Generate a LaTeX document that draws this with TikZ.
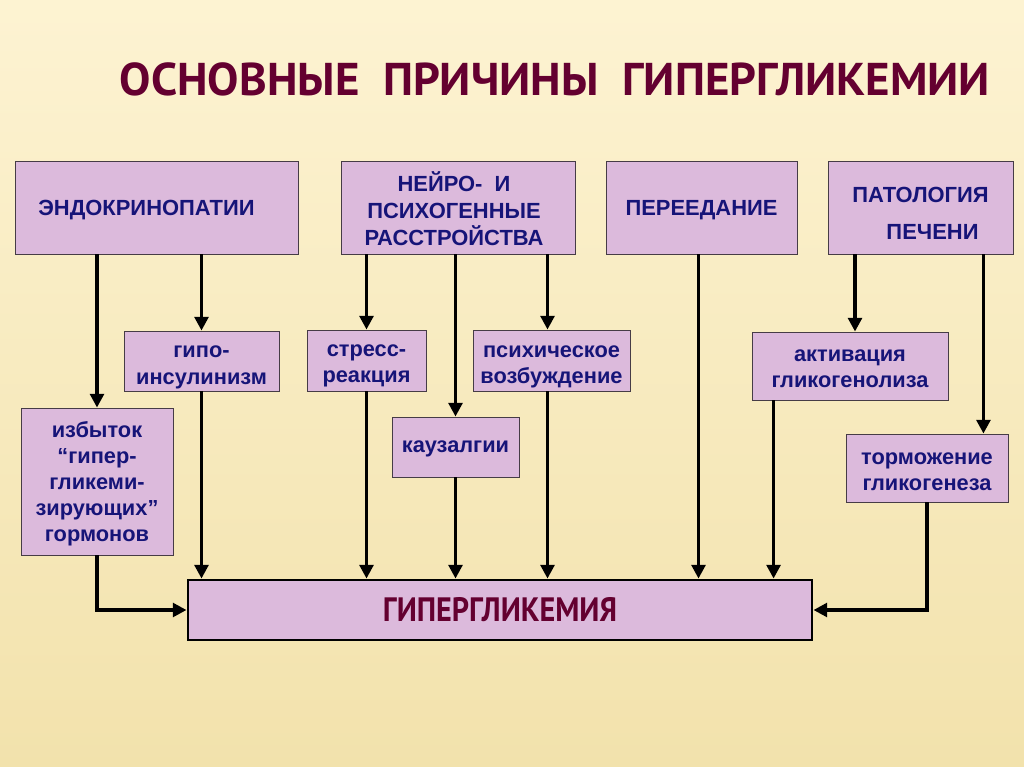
\documentclass[tikz,border=0pt]{standalone}
\usepackage{fontspec}
\setmainfont{Liberation Sans}
\newfontfamily\titlefont{PT Sans}
\usepackage{graphicx}
\usepackage{tikz}
\usetikzlibrary{arrows.meta, positioning, calc}
\definecolor{bgtop}{RGB}{253,243,210}
\definecolor{bgmid}{RGB}{245,224,165}
\definecolor{bgbot}{RGB}{242,226,172}
\definecolor{boxfill}{RGB}{220,186,220}
\definecolor{boxline}{RGB}{70,60,70}
\definecolor{navy}{RGB}{22,20,120}
\definecolor{maroon}{RGB}{100,0,48}
% lower the lines of a box without changing its size
\newcommand{\downtext}[2]{\raisebox{-#1}[\height][\depth]{\begin{tabular}{@{}c@{}}#2\end{tabular}}}
\tikzset{
  topbox/.style={rectangle, draw=boxline, fill=boxfill, line width=0.6pt,
    inner sep=0pt, align=center, text=navy,
    font=\fontsize{15.6}{19}\selectfont\bfseries, minimum height=2.325cm},
  subbox/.style={rectangle, draw=boxline, fill=boxfill, line width=0.6pt,
    inner sep=0pt, align=center, text=navy,
    font=\fontsize{15.5}{18.5}\selectfont\bfseries},
  mainbox/.style={rectangle, draw=black, fill=boxfill, line width=2pt,
    inner sep=0pt, text=maroon, minimum width=15.6cm, minimum height=1.5cm},
  arrow/.style={-{Triangle[length=0.34cm, width=0.34cm]}, line width=2.7pt, color=black}
}

\begin{document}
\begin{tikzpicture}[x=0.025cm, y=-0.025cm]
  % background
  \shade[top color=bgtop, middle color=bgmid, bottom color=bgbot] (0,0) rectangle (1024,767);
  \useasboundingbox (0,0) rectangle (1024,767);

  % title
  \node[text=maroon] (title) at (555,79)
    {\resizebox{21.75cm}{0.82cm}{\titlefont\bfseries ОСНОВНЫЕ\ \ ПРИЧИНЫ\ \ ГИПЕРГЛИКЕМИИ}};

  % top row
  \node[topbox, minimum width=7.075cm] (endo) at (156.5,207.5)
    {\downtext{0.075cm}{ЭНДОКРИНОПАТИИ}\hspace*{0.5cm}};
  \node[topbox, minimum width=5.85cm] (neuro) at (458,207.5)
    {\downtext{0.13cm}{НЕЙРО-\ \ И\\ПСИХОГЕННЫЕ\\РАССТРОЙСТВА}\hspace*{0.2cm}};
  \node[topbox, minimum width=4.775cm] (over) at (701.5,207.5) {\downtext{0.075cm}{ПЕРЕЕДАНИЕ}};
  \node[topbox, minimum width=4.625cm] (liver) at (920.5,207.5)
    {\fontsize{15.6}{26}\selectfont\downtext{0.15cm}{ПАТОЛОГИЯ\\\hspace*{0.6cm}ПЕЧЕНИ}};

  % second level
  \node[subbox, minimum width=3.875cm, minimum height=1.5cm] (hypo) at (201.5,361)
    {\downtext{0.12cm}{гипо-\\инсулинизм}};
  \node[subbox, minimum width=3.8cm, minimum height=3.675cm] (excess) at (97,481.5)
    {\downtext{0.06cm}{избыток\\“гипер-\\гликеми-\\зирующих”\\гормонов}};
  \node[subbox, minimum width=2.975cm, minimum height=1.525cm] (stress) at (366.5,360.5)
    {\downtext{0.1cm}{стресс-\\реакция}};
  \node[subbox, minimum width=3.175cm, minimum height=1.5cm] (caus) at (455.5,447)
    {\downtext{0cm}{каузалгии}};
  \node[subbox, minimum width=3.925cm, minimum height=1.525cm] (psych) at (551.5,360.5)
    {\downtext{0.12cm}{психическое\\возбуждение}};
  \node[subbox, minimum width=4.9cm, minimum height=1.7cm] (act) at (850,366)
    {\downtext{0.075cm}{активация\\гликогенолиза}};
  \node[subbox, minimum width=4.05cm, minimum height=1.7cm] (inh) at (927,468)
    {\downtext{0.1cm}{торможение\\гликогенеза}};

  % result
  \node[mainbox] (hg) at (500,610)
    {\resizebox{5.85cm}{0.6cm}{\titlefont\bfseries ГИПЕРГЛИКЕМИЯ}};

  % arrows
  \draw[arrow] (endo.south -| excess) -- (excess.north);
  \draw[arrow] (endo.south -| hypo) -- (hypo.north);
  \draw[arrow] (hypo.south) -- (hypo.south |- hg.north);
  \draw[arrow] (excess.south) |- (hg.west);

  \draw[arrow] (neuro.south -| stress) -- (stress.north);
  \draw[arrow] (neuro.south -| caus) -- (caus.north);
  \draw[arrow] ($(neuro.south -| psych)+(-4,0)$) -- ($(psych.north)+(-4,0)$);
  \draw[arrow] (stress.south) -- (stress.south |- hg.north);
  \draw[arrow] (caus.south) -- (caus.south |- hg.north);
  \draw[arrow] ($(psych.south)+(-4,0)$) -- ($(psych.south |- hg.north)+(-4,0)$);

  \draw[arrow] ($(over.south)+(-3,0)$) -- ($(over.south |- hg.north)+(-3,0)$);

  \coordinate (la) at ($(act.north)+(5,0)$);
  \coordinate (li) at ($(inh.north east)+(-25,0)$);
  \coordinate (ab) at ($(act.south west)+(22,0)$);
  \draw[arrow] (liver.south -| la) -- (la);
  \draw[arrow] (liver.south -| li) -- (li);
  \draw[arrow] (ab) -- (ab |- hg.north);
  \draw[arrow] (inh.south) |- (hg.east);
\end{tikzpicture}
\end{document}
